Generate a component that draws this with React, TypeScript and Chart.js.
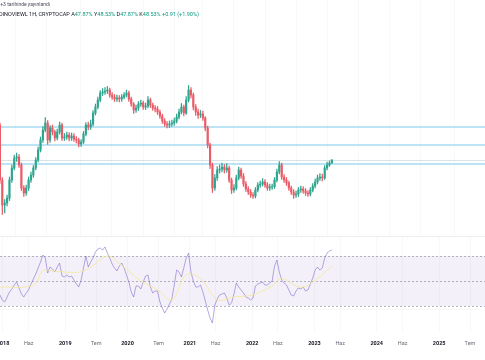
import React, { useEffect, useRef } from "react";
import { Chart, registerables } from "chart.js";
Chart.register(...registerables);

// ---- data (BTC-like dominance, 2-week candles) ----
const START_UTC = Date.UTC(2017, 11, 14);
const STEP_DAYS = 14;
const firstOpen = 55.5;
const closes = [
  44.5, 39.5, 39.9, 40.9, 44.5, 46.9, 48.9, 49.1, 47.5, 42.9,
  41.9, 42.9, 44.5, 45.5, 46.9, 48.5, 50.5, 52.5, 54.5, 55.9,
  52.5, 54.9, 54.1, 52.9, 54.1, 55.5, 52.9, 53.1, 53.5, 52.9,
  53.3, 52.7, 52.5, 51.7, 52.1, 53.7, 55.5, 55.1, 55.7, 57.9,
  59.1, 60.5, 61.9, 62.1, 62.3, 62.5, 61.5, 61.1, 60.7, 60.9,
  60.7, 61.1, 61.5, 61.9, 60.7, 59.7, 58.5, 58.9, 59.7, 59.9,
  59.1, 59.3, 60.5, 59.5, 58.9, 58.7, 58.1, 57.3, 56.3, 55.7,
  55.5, 55.7, 55.9, 56.3, 57.1, 58.1, 59.1, 57.9, 60.5, 62.5,
  61.5, 59.1, 58.1, 57.5, 57.7, 56.9, 54.9, 51.5, 47.5, 42.9,
  44.9, 46.5, 46.7, 47.1, 46.5, 46.9, 44.5, 42.5, 42.9, 44.9,
  46.5, 45.3, 43.7, 42.7, 42.1, 41.5, 41.3, 42.5, 43.5, 43.7,
  44.1, 43.5, 42.9, 43.1, 43.2, 44.5, 46.1, 47.5, 45.1, 44.5,
  43.9, 42.9, 42.1, 41.5, 41.7, 42.5, 42.7, 42.3, 41.9, 41.7,
  42.5, 43.3, 44.1, 44.9, 45.1, 44.9, 46.9, 47.5, 47.87, 48.53,
];
const highs = [
  55.9, 45.0, 40.6, 41.5, 45.1, 47.5, 49.5, 49.9, 49.6, 47.9,
  43.4, 43.5, 45.1, 46.1, 47.4, 49.0, 51.1, 53.1, 55.2, 57.0,
  56.4, 55.4, 55.5, 54.5, 54.7, 56.1, 55.9, 53.8, 54.1, 54.0,
  53.9, 53.8, 53.2, 52.9, 52.6, 54.2, 56.0, 56.1, 56.5, 58.4,
  59.7, 61.1, 62.4, 62.8, 63.0, 63.2, 62.9, 62.0, 61.6, 61.5,
  61.4, 61.6, 62.0, 62.5, 62.3, 61.1, 60.0, 59.5, 60.2, 60.5,
  60.3, 59.9, 61.2, 60.9, 59.9, 59.4, 59.2, 58.5, 57.7, 56.8,
  56.2, 56.3, 56.5, 56.9, 57.7, 58.7, 59.8, 59.5, 61.2, 63.4,
  63.0, 61.9, 59.6, 58.7, 58.4, 58.3, 57.2, 55.3, 51.9, 47.9,
  45.6, 47.2, 47.5, 47.9, 47.6, 47.8, 47.3, 44.9, 43.6, 45.5,
  47.1, 46.9, 45.8, 44.2, 43.2, 42.6, 42.0, 43.0, 44.0, 44.3,
  44.8, 44.6, 44.0, 43.7, 43.7, 45.0, 46.7, 48.2, 47.9, 45.6,
  45.0, 44.3, 43.3, 42.6, 42.3, 43.0, 43.3, 43.2, 42.8, 42.4,
  43.0, 43.8, 44.7, 45.5, 45.8, 45.7, 47.4, 48.1, 48.3, 48.53,
];
const lows = [
  43.8, 37.6, 37.9, 39.3, 40.4, 44.0, 46.5, 48.2, 47.0, 42.4,
  41.2, 41.4, 42.4, 44.0, 45.0, 46.5, 48.1, 50.1, 52.0, 54.1,
  51.6, 52.0, 53.5, 52.3, 52.5, 53.7, 52.4, 52.4, 52.6, 52.3,
  52.4, 52.2, 51.9, 51.1, 51.2, 51.8, 53.3, 54.5, 54.6, 55.3,
  57.5, 58.7, 60.1, 61.4, 61.6, 61.8, 61.0, 60.6, 60.2, 60.2,
  60.1, 60.2, 60.7, 61.1, 60.2, 59.2, 57.8, 58.0, 58.4, 59.2,
  58.6, 58.6, 58.9, 59.0, 58.4, 58.1, 57.6, 56.8, 55.8, 55.2,
  54.9, 55.0, 55.2, 55.4, 55.9, 56.7, 57.7, 57.3, 57.6, 60.1,
  60.9, 58.5, 57.4, 56.8, 57.0, 56.4, 54.3, 50.9, 46.8, 42.0,
  42.4, 44.4, 45.9, 46.1, 45.9, 46.0, 44.0, 41.8, 42.0, 42.5,
  44.5, 44.8, 43.2, 42.2, 41.6, 41.0, 40.8, 40.9, 42.1, 43.0,
  43.3, 43.0, 42.4, 42.4, 42.6, 42.8, 44.1, 45.7, 44.6, 44.0,
  43.4, 42.4, 41.6, 40.8, 41.0, 41.2, 42.0, 41.8, 41.4, 41.2,
  41.3, 42.1, 42.9, 43.7, 44.4, 44.3, 44.6, 46.5, 47.2, 47.87,
];
const rsiValues = [
  38.8, 34.8, 33.2, 37.2, 41.2, 43.6, 46.8, 49.2, 44.4, 39.6,
  37.2, 40.4, 42.8, 47.6, 51.6, 55.6, 60.4, 65.2, 70.8, 68.4,
  56.4, 61.2, 59.6, 57.2, 61.2, 64.4, 54.0, 53.2, 54.8, 53.2,
  54.0, 50.8, 47.6, 45.2, 50.8, 60.4, 70.0, 61.2, 65.2, 68.4,
  73.2, 75.6, 76.4, 74.8, 77.2, 72.4, 68.4, 63.6, 60.4, 58.0,
  62.0, 64.4, 60.4, 54.8, 49.2, 41.2, 37.2, 46.0, 46.0, 43.6,
  49.2, 54.0, 54.8, 45.2, 40.4, 42.0, 42.0, 33.2, 28.4, 24.4,
  27.6, 31.6, 35.6, 46.8, 58.8, 57.2, 53.2, 60.4, 68.4, 72.4,
  57.2, 50.0, 45.2, 45.2, 46.8, 41.2, 34.0, 26.8, 20.4, 16.4,
  30.8, 35.6, 38.8, 39.6, 40.4, 36.4, 30.8, 32.4, 39.6, 48.4,
  45.2, 42.8, 40.4, 37.2, 36.4, 34.8, 36.4, 46.0, 47.6, 48.4,
  49.2, 46.8, 46.8, 48.4, 50.0, 62.0, 66.8, 57.2, 50.8, 48.4,
  46.8, 42.8, 38.8, 38.0, 42.0, 44.4, 43.6, 45.2, 42.0, 42.8,
  47.6, 52.4, 58.8, 61.2, 58.8, 60.4, 68.4, 72.4, 74.0, 74.8,
];
// RSI moving average, read at a few candles
const maIndex = [0, 14, 18, 22, 33, 38, 45, 50, 59, 66, 72, 78, 84, 91, 97, 106, 114, 118, 126, 133, 139];
const maValues = [45, 46.8, 58, 58, 57, 61, 70, 64, 50, 43, 35, 55, 52, 35, 37, 39, 46, 52, 45, 52, 62];

const levelLines = [55.1, 51.5, 47.7];
const rsiBands = { upper: 70, middle: 50, lower: 30 };

const tickDates: [number, number][] = [
  [2018, 0], [2018, 5], [2019, 0], [2019, 6], [2020, 0], [2020, 6], [2021, 0], [2021, 5],
  [2022, 0], [2022, 5], [2023, 0], [2023, 5], [2024, 0], [2024, 5], [2025, 0], [2025, 6],
];
const tickLabels = ["2018", "Haz", "2019", "Tem", "2020", "Tem", "2021", "Haz", "2022", "Haz", "2023", "Haz", "2024", "Haz", "2025", "Tem"];

const X_MIN = 2017.952;
const X_MAX = 2025.737;
const FONT = "Roboto, 'Noto Sans', sans-serif";
const UP = "#2fa58f";
const DOWN = "#eb5b67";

const toYear = (ms: number) => 2018 + (ms - Date.UTC(2018, 0, 1)) / (365.25 * 864e5);
const times = closes.map((_, i) => toYear(START_UTC + i * STEP_DAYS * 864e5));
const opens = closes.map((_, i) => (i === 0 ? firstOpen : closes[i - 1]));
const tickValues = tickDates.map(([y, m]) => toYear(Date.UTC(y, m, 1)));

function xScale(showLabels: boolean) {
  return {
    type: "linear" as const,
    min: X_MIN,
    max: X_MAX,
    offset: false,
    afterBuildTicks: (s: any) => {
      s.ticks = tickValues.map((v) => ({ value: v }));
    },
    afterFit: (s: any) => {
      s.height = showLabels ? 27 : 0;
      s.paddingLeft = 0;
      s.paddingRight = 0;
    },
    grid: { color: "rgba(42,46,57,0.035)", drawTicks: false },
    border: { display: false },
    ticks: {
      display: showLabels,
      autoSkip: false,
      maxRotation: 0,
      padding: 7.7,
      callback: (_v: any, i: number) => tickLabels[i],
      color: (ctx: any) => (/^\d/.test(tickLabels[ctx.index] || "") ? "#131722" : "#6a6d78"),
      font: (ctx: any) => ({
        family: FONT,
        size: 5.5,
        weight: /^\d/.test(tickLabels[ctx.index] || "") ? "bold" : "normal",
      }),
    },
  };
}

export default function App() {
  const mainRef = useRef<HTMLCanvasElement>(null);
  const rsiRef = useRef<HTMLCanvasElement>(null);

  useEffect(() => {
    const dirColor = (ctx: any) => {
      const i = ctx.dataIndex;
      return closes[i] >= opens[i] ? UP : DOWN;
    };
    const linesPlugin = {
      id: "levels",
      beforeDatasetsDraw(chart: any) {
        const { ctx, chartArea, scales } = chart;
        ctx.save();
        ctx.lineWidth = 1.5;
        ctx.strokeStyle = "rgba(120,200,232,0.65)";
        levelLines.forEach((v) => {
          const y = scales.y.getPixelForValue(v);
          ctx.beginPath();
          ctx.moveTo(chartArea.left, y);
          ctx.lineTo(chartArea.right, y);
          ctx.stroke();
        });
        const last = closes[closes.length - 1];
        const yl = Math.round(scales.y.getPixelForValue(last)) + 0.5;
        ctx.lineWidth = 1;
        ctx.strokeStyle = "rgba(185,205,212,0.55)";
        ctx.beginPath();
        ctx.moveTo(chartArea.left, yl);
        ctx.lineTo(chartArea.right, yl);
        ctx.stroke();
        ctx.restore();
      },
    };
    const main = new Chart(mainRef.current!, {
      type: "bar",
      data: {
        datasets: [
          {
            data: closes.map((_, i) => ({ x: times[i], y: [lows[i], highs[i]] })) as any,
            backgroundColor: dirColor,
            barThickness: 0.6,
            grouped: false,
            borderWidth: 0,
          } as any,
          {
            data: closes.map((c, i) => ({ x: times[i], y: [opens[i], c] })) as any,
            backgroundColor: dirColor,
            barThickness: 1.5,
            grouped: false,
            borderWidth: 0,
          } as any,
        ],
      },
      options: {
        animation: false,
        responsive: false,
        events: [],
        layout: { padding: 0 },
        plugins: { legend: { display: false }, tooltip: { enabled: false } },
        scales: {
          x: xScale(false) as any,
          y: { min: 33.3, max: 80.5, display: false },
        },
      },
      plugins: [linesPlugin],
    });

    const bandPlugin = {
      id: "band",
      beforeDatasetsDraw(chart: any) {
        const { ctx, chartArea, scales } = chart;
        const yU = scales.y.getPixelForValue(rsiBands.upper);
        const yL = scales.y.getPixelForValue(rsiBands.lower);
        ctx.save();
        ctx.fillStyle = "rgba(126,87,194,0.09)";
        ctx.fillRect(chartArea.left, yU, chartArea.right - chartArea.left, yL - yU);
        ctx.setLineDash([2, 2]);
        ctx.lineWidth = 1;
        ctx.strokeStyle = "rgba(120,123,134,0.55)";
        [rsiBands.upper, rsiBands.middle, rsiBands.lower].forEach((v) => {
          const y = Math.round(scales.y.getPixelForValue(v)) + 0.5;
          ctx.beginPath();
          ctx.moveTo(chartArea.left, y);
          ctx.lineTo(chartArea.right, y);
          ctx.stroke();
        });
        ctx.restore();
      },
    };
    const rsi = new Chart(rsiRef.current!, {
      type: "line",
      data: {
        datasets: [
          {
            data: maIndex.map((idx, k) => ({ x: times[idx], y: maValues[k] })),
            borderColor: "rgba(245,232,150,0.8)",
            borderWidth: 1,
            pointRadius: 0,
            tension: 0.4,
          },
          {
            data: rsiValues.map((v, i) => ({ x: times[i], y: v })),
            borderColor: "rgba(126,100,200,0.7)",
            borderWidth: 0.8,
            pointRadius: 0,
            tension: 0,
          },
        ],
      },
      options: {
        animation: false,
        responsive: false,
        events: [],
        layout: { padding: { top: 1, left: 0, right: 0, bottom: 0 } },
        plugins: { legend: { display: false }, tooltip: { enabled: false } },
        scales: {
          x: xScale(true) as any,
          y: { min: 8.4, max: 85.2, display: false },
        },
      },
      plugins: [bandPlugin],
    });
    return () => {
      main.destroy();
      rsi.destroy();
    };
  }, []);

  const teal = "#089981";
  const dark = "#131722";
  return (
    <div style={{ position: "fixed", left: 0, top: 0, width: 485, height: 360, overflow: "hidden", background: "#ffffff", fontFamily: FONT }}>
      <canvas ref={mainRef} width={485} height={236} style={{ position: "absolute", left: 0, top: 0, width: 485, height: 236 }} />
      <canvas ref={rsiRef} width={485} height={124} style={{ position: "absolute", left: 0, top: 236, width: 485, height: 124 }} />
      <div style={{ position: "absolute", left: 0, top: 236, width: 485, height: 1, background: "#eceef2" }} />
      <div style={{ position: "absolute", left: -3, top: 1, fontSize: 5, color: "#4a4d57", whiteSpace: "nowrap", lineHeight: "7px" }}>
        C+3 tarihinde yayınlandı
      </div>
      <div style={{ position: "absolute", left: -1, top: 11, fontSize: 5.5, color: dark, whiteSpace: "nowrap", lineHeight: "7px" }}>
        DINOVIEWL 1H, CRYPTOCAP{" "}
        A<span style={{ color: teal }}>47.87%</span>{" "}
        Y<span style={{ color: teal }}>48.53%</span>{" "}
        D<span style={{ color: teal }}>47.87%</span>{" "}
        K<span style={{ color: teal }}>48.53%</span>{" "}
        <span style={{ color: teal }}>+0.91 (+1.90%)</span>
      </div>
    </div>
  );
}
